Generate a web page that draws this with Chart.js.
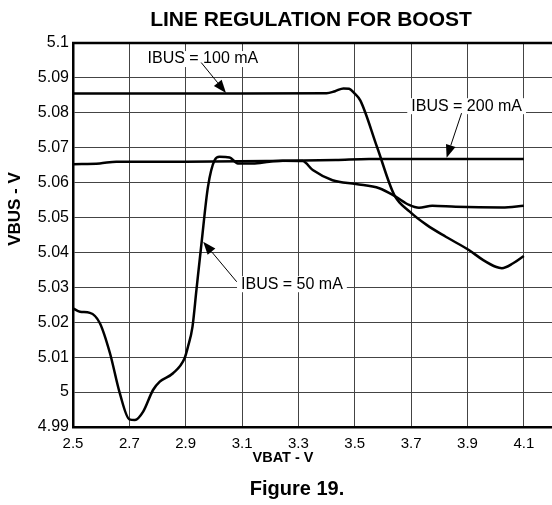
<!DOCTYPE html>
<html>
<head>
<meta charset="utf-8">
<script src="https://cdn.jsdelivr.net/npm/chart.js@4/dist/chart.umd.min.js"></script>
<style>
  html, body { margin: 0; padding: 0; background: #fff; }
  canvas { display: block; }
</style>
</head>
<body>
<canvas id="boostChart" width="552" height="505"></canvas>
<script>
// Axis ticks
const xTicks = [2.5, 2.7, 2.9, 3.1, 3.3, 3.5, 3.7, 3.9, 4.1];
const yTicks = [4.99, 5.0, 5.01, 5.02, 5.03, 5.04, 5.05, 5.06, 5.07, 5.08, 5.09, 5.1];

// IBUS = 100 mA
const vbat100 = [2.5, 2.8, 3.1, 3.4, 3.43, 3.46, 3.48, 3.50, 3.52, 3.58, 3.64, 3.695, 3.755, 3.823, 3.905, 3.956, 4.0, 4.022, 4.062, 4.1];
const vbus100 = [5.0855, 5.0855, 5.0855, 5.0856, 5.0862, 5.0870, 5.0869, 5.0855, 5.0835, 5.0700, 5.0565, 5.0517, 5.0479, 5.0445, 5.0407, 5.0378, 5.0359, 5.0355, 5.0369, 5.0390];

// IBUS = 50 mA
const vbat50 = [2.5, 2.525, 2.56, 2.595, 2.631, 2.666, 2.70, 2.72, 2.749, 2.784, 2.808, 2.855, 2.896, 2.908, 2.924, 2.938, 2.956, 2.979, 3.003, 3.02, 3.056, 3.085, 3.138, 3.197, 3.244, 3.315, 3.351, 3.421, 3.504, 3.587, 3.645, 3.693, 3.728, 3.775, 3.858, 4.023, 4.1];
const vbus50 = [5.0240, 5.0230, 5.0227, 5.0198, 5.0112, 4.9997, 4.9922, 4.9920, 4.9944, 5.0006, 5.0030, 5.0054, 5.0097, 5.0130, 5.0187, 5.0292, 5.0426, 5.0588, 5.0665, 5.0674, 5.0672, 5.0655, 5.0655, 5.0660, 5.0663, 5.0662, 5.0636, 5.0607, 5.0596, 5.0584, 5.0560, 5.0536, 5.0528, 5.0534, 5.0531, 5.0529, 5.0534];

// IBUS = 200 mA
const vbat200 = [2.5, 2.595, 2.654, 2.9, 3.2, 3.433, 3.551, 3.8, 4.1];
const vbus200 = [5.0653, 5.0655, 5.0660, 5.0660, 5.0662, 5.0665, 5.0668, 5.0668, 5.0668];

// Callout labels (text anchor, arrow start, arrow tip) in data units
const callouts = [
    { text: 'IBUS = 100 mA', at: [2.961, 5.0954], from: [2.955, 5.0944], to: [3.043, 5.0857] },
    { text: 'IBUS = 200 mA', at: [3.897, 5.0819], from: [3.879, 5.0799], to: [3.826, 5.0671] },
    { text: 'IBUS = 50 mA',  at: [3.277, 5.0309], from: [3.081, 5.0316], to: [2.962, 5.0431] }
];

const FONT = '"Liberation Sans", Arial, sans-serif';

function toPoints(xs, ys) {
    return xs.map((x, i) => ({ x: x, y: ys[i] }));
}

function lineSet(label, xs, ys) {
    return {
        label: label,
        data: toPoints(xs, ys),
        borderColor: '#000',
        borderWidth: 2.5,
        pointRadius: 0,
        fill: false,
        cubicInterpolationMode: 'monotone'
    };
}

function drawArrow(ctx, x1, y1, x2, y2) {
    const ang = Math.atan2(y2 - y1, x2 - x1);
    const len = 13, half = 5;
    const bx = x2 - len * Math.cos(ang), by = y2 - len * Math.sin(ang);
    ctx.beginPath();
    ctx.moveTo(x1, y1);
    ctx.lineTo(bx, by);
    ctx.strokeStyle = '#000';
    ctx.lineWidth = 1;
    ctx.stroke();
    ctx.beginPath();
    ctx.moveTo(x2, y2);
    ctx.lineTo(bx + half * Math.sin(ang), by - half * Math.cos(ang));
    ctx.lineTo(bx - half * Math.sin(ang), by + half * Math.cos(ang));
    ctx.closePath();
    ctx.fillStyle = '#000';
    ctx.fill();
}

const decorations = {
    id: 'decorations',
    afterDatasetsDraw(chart) {
        const ctx = chart.ctx;
        const xs = chart.scales.x, ys = chart.scales.y;
        const area = chart.chartArea;
        ctx.save();

        // top frame line
        ctx.beginPath();
        ctx.moveTo(area.left - 1, area.top);
        ctx.lineTo(area.right, area.top);
        ctx.strokeStyle = '#000';
        ctx.lineWidth = 2.5;
        ctx.stroke();

        // callouts
        ctx.font = '16px ' + FONT;
        ctx.textAlign = 'center';
        ctx.textBaseline = 'middle';
        callouts.forEach(c => {
            const tx = xs.getPixelForValue(c.at[0]);
            const ty = ys.getPixelForValue(c.at[1]);
            const w = ctx.measureText(c.text).width;
            ctx.fillStyle = '#fff';
            ctx.fillRect(tx - w / 2 - 4, ty - 8, w + 8, 16);
            drawArrow(ctx,
                xs.getPixelForValue(c.from[0]), ys.getPixelForValue(c.from[1]),
                xs.getPixelForValue(c.to[0]), ys.getPixelForValue(c.to[1]));
            ctx.fillStyle = '#000';
            ctx.fillText(c.text, tx, ty);
        });

        // titles
        ctx.fillStyle = '#000';
        ctx.font = 'bold 21px ' + FONT;
        ctx.fillText('LINE REGULATION FOR BOOST', 311, 20);
        ctx.font = 'bold 20px ' + FONT;
        ctx.fillText('Figure 19.', 297, 489);
        ctx.font = 'bold 14.5px ' + FONT;
        ctx.fillText('VBAT - V', 283, 458);
        ctx.translate(15, 209);
        ctx.rotate(-Math.PI / 2);
        ctx.font = 'bold 17px ' + FONT;
        ctx.fillText('VBUS - V', 0, 0);
        ctx.restore();
    }
};

new Chart(document.getElementById('boostChart'), {
    type: 'line',
    data: {
        datasets: [
            lineSet('IBUS = 100 mA', vbat100, vbus100),
            lineSet('IBUS = 50 mA', vbat50, vbus50),
            lineSet('IBUS = 200 mA', vbat200, vbus200)
        ]
    },
    options: {
        responsive: false,
        animation: false,
        layout: { padding: { top: 43, left: 0, right: 0, bottom: 0 } },
        plugins: {
            legend: { display: false },
            tooltip: { enabled: false }
        },
        scales: {
            x: {
                type: 'linear',
                min: 2.5,
                max: 4.2,
                afterBuildTicks: s => { s.ticks = xTicks.map(v => ({ value: v })); },
                afterFit: s => { s.height = 78; s.paddingLeft = 0; s.paddingRight = 0; },
                grid: { color: '#444', lineWidth: 1, drawTicks: false },
                border: { color: '#000', width: 2.5 },
                ticks: {
                    color: '#000',
                    padding: 8,
                    maxRotation: 0,
                    font: { family: FONT, size: 15 },
                    callback: v => v.toFixed(1)
                }
            },
            y: {
                type: 'linear',
                min: 4.99,
                max: 5.1,
                afterBuildTicks: s => { s.ticks = yTicks.map(v => ({ value: v })); },
                afterFit: s => { s.width = 73; s.paddingTop = 0; s.paddingBottom = 0; },
                grid: { color: '#444', lineWidth: 1, drawTicks: false },
                border: { color: '#000', width: 2.5 },
                ticks: {
                    color: '#000',
                    padding: 4,
                    font: { family: FONT, size: 16 },
                    callback: v => String(parseFloat(v.toFixed(2)))
                }
            }
        }
    },
    plugins: [decorations]
});
</script>
</body>
</html>
